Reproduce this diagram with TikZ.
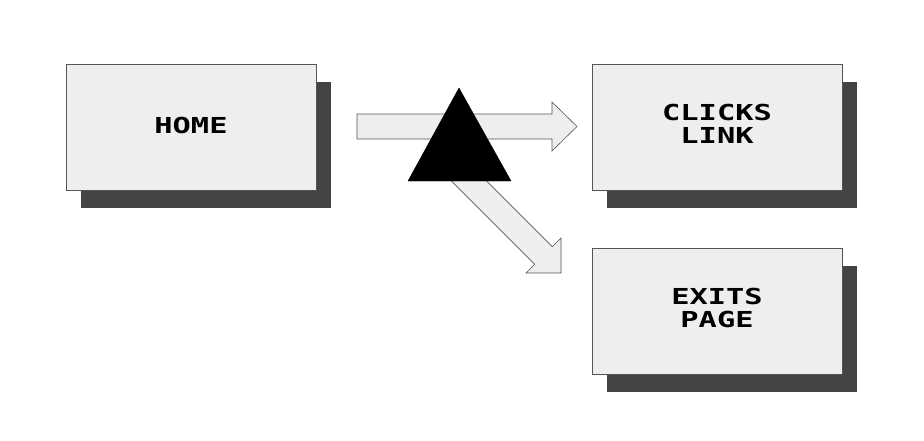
\documentclass[tikz,border=0pt]{standalone}
\usepackage{fontspec}
\newfontfamily\pixfont[FakeStretch=1.38]{DejaVu Sans Mono Bold}
\usetikzlibrary{shadows}
\definecolor{boxfill}{HTML}{EEEEEE}
\definecolor{boxline}{HTML}{555555}
\definecolor{shadowgray}{HTML}{444444}
\tikzset{
  box/.style={draw=boxline, line width=0.8pt, fill=boxfill, minimum width=250pt, minimum height=126pt,
    inner sep=0pt, align=center, font=\pixfont\fontsize{22}{22}\selectfont,
    drop shadow={shadow xshift=15pt, shadow yshift=-18pt, fill=shadowgray, opacity=1}},
  fatarrow/.style={draw=boxline, line width=0.6pt, fill=boxfill, line join=miter},
  tri/.style={draw=black, fill=black}
}
\begin{document}
\begin{tikzpicture}[x=1pt,y=-1pt]
\useasboundingbox[fill=white] (0,0) rectangle (924,440);
\node[box] (home) at (191,127) {\raisebox{3pt}{HOME}};
\node[box] (clicks) at (717,127) {\raisebox{3pt}{\begin{tabular}{@{}c@{}}CLICKS\\LINK\end{tabular}}};
\node[box] (exits) at (717,311) {\raisebox{3pt}{\begin{tabular}{@{}c@{}}EXITS\\PAGE\end{tabular}}};
% horizontal block arrow
\coordinate (h0) at (357,126.5);
\coordinate (h1) at (577,126.5);
\draw[fatarrow] (357,114) -- (552,114) -- (552,102) -- (h1) -- (552,151) -- (552,139) -- (357,139) -- cycle;
% diagonal block arrow
\coordinate (d0) at (459,171);
\coordinate (d1) at (561,273);
\draw[fatarrow] (467.8,162.2) -- (552.3,246.7) -- (561,238) -- (d1) -- (526,273) -- (534.7,264.3) -- (450.2,179.8) -- cycle;
% triangle
\coordinate (apex) at (459,88);
\draw[tri] (apex) -- (511,181) -- (408,181) -- cycle;
\end{tikzpicture}
\end{document}
